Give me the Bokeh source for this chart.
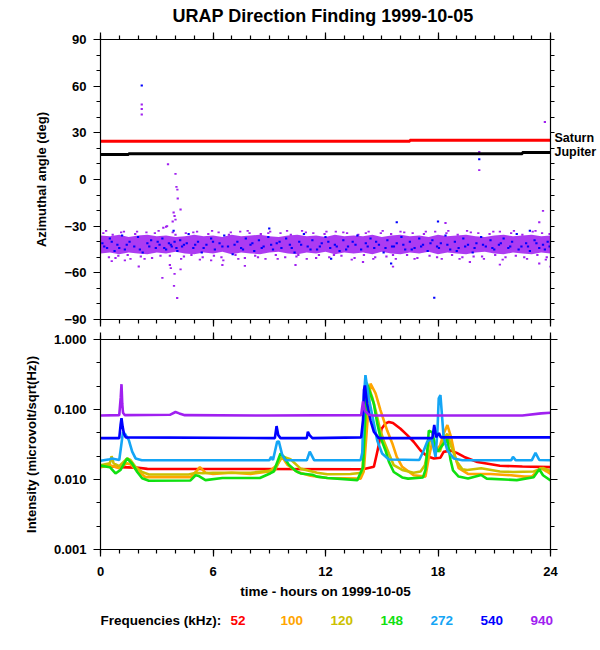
from bokeh.plotting import figure
from bokeh.layouts import column
from bokeh.models import FixedTicker, LinearAxis, LogAxis, Range1d, PrintfTickFormatter
from bokeh.core.properties import value
from bokeh.embed import file_html
from bokeh.resources import INLINE

FONT = "Liberation Sans"
RED, ORANGE, YELLOW, GREEN = "#ff0000", "#ffa500", "#ccc000", "#10e010"
LBLUE, BLUE, PURPLE = "#14a5f5", "#0000ff", "#a020f0"

TITLE = "URAP Direction Finding  1999-10-05"

# ---------------- top panel data ----------------
saturn_h = [0, 16.5, 16.5, 24]
saturn_deg = [24.6, 24.6, 25.3, 25.3]
jupiter_h = [0, 1.5, 1.5, 22.5, 22.5, 24]
jupiter_deg = [16.1, 16.1, 16.6, 16.6, 17.4, 17.4]
planet_names = {26.5: "Saturn", 17.5: "Jupiter"}

core_h = [0, 0.5, 1, 1.5, 2, 2.5, 3, 3.5, 4, 4.5, 5, 5.5, 6, 6.5, 7, 7.5, 8, 8.5, 9, 9.5, 10, 10.5,
          11, 11.5, 12, 12.5, 13, 13.5, 14, 14.5, 15, 15.5, 16, 16.5, 17, 17.5, 18, 18.5, 19, 19.5,
          20, 20.5, 21, 21.5, 22, 22.5, 23, 23.5, 24]
core_hi = [-36, -36.5, -35.5, -37, -36, -35.5, -36.5, -36, -37, -36.5, -35.5, -36.5, -36, -37, -35.5,
           -36.5, -36, -35.5, -36.5, -37, -36, -35.5, -36.5, -36, -37, -35.5, -36.5, -36, -36.5, -35.5,
           -37, -36, -35.5, -36.5, -36, -37, -35.5, -36.5, -36, -35.5, -36.5, -37, -36, -35.5, -36.5,
           -36, -35.5, -36.5, -36]
core_lo = [-47.5, -47, -48, -47, -47.5, -48, -47, -47.5, -46.5, -47.5, -48, -47, -47.5, -46.5, -48,
           -47, -47.5, -48, -47, -46.5, -47.5, -48, -47, -47.5, -46.5, -48, -47, -47.5, -47, -48,
           -46.5, -47.5, -48, -47, -47.5, -46.5, -48, -47, -47.5, -48, -47, -46.5, -47.5, -48, -47,
           -47.5, -48, -47, -47.5]

blue_pts = [
    (0.1, -41), (0.35, -44), (0.5, -38), (0.75, -46), (0.9, -42), (1.15, -36), (1.3, -45), (1.55, -40),
    (1.8, -43), (2.0, -37), (2.25, -47), (2.5, -41), (2.7, -39), (2.95, -44), (3.15, -42), (3.3, -38),
    (3.5, -45), (3.65, -41), (3.8, -43), (3.95, -40), (4.1, -46), (4.25, -39), (4.45, -42), (4.7, -35),
    (4.95, -44), (5.2, -40), (5.4, -47), (5.65, -42), (5.9, -38), (6.1, -45), (6.35, -41), (6.6, -36),
    (6.8, -43), (7.05, -48), (7.3, -40), (7.5, -44), (7.75, -38), (8.0, -42), (8.2, -46), (8.45, -39),
    (8.7, -43), (8.95, -37), (9.2, -45), (9.4, -41), (9.65, -44), (9.9, -38), (10.1, -42), (10.35, -47),
    (10.6, -40), (10.85, -35), (11.05, -43), (11.3, -39), (11.55, -45), (11.8, -41), (12.0, -37),
    (12.25, -44), (12.5, -42), (12.75, -46), (12.95, -39), (13.2, -43), (13.45, -40), (13.7, -36),
    (13.9, -45), (14.15, -41), (14.4, -38), (14.6, -44), (14.85, -42), (15.1, -47), (15.3, -39),
    (15.55, -43), (15.8, -41), (16.05, -37), (16.25, -45), (16.5, -40), (16.75, -44), (17.0, -38),
    (17.2, -42), (17.45, -46), (17.7, -39), (17.95, -43), (18.15, -41), (18.4, -36), (18.65, -45),
    (18.9, -40), (19.1, -44), (19.35, -38), (19.6, -42), (19.85, -47), (20.05, -41), (20.3, -37),
    (20.55, -43), (20.8, -39), (21.0, -45), (21.25, -42), (21.5, -38), (21.75, -44), (21.95, -40),
    (22.2, -35), (22.45, -43), (22.7, -41), (22.9, -46), (23.15, -39), (23.4, -44), (23.6, -42),
    (23.85, -40),
    (0.2, -43), (0.6, -40), (1.0, -44), (1.4, -42), (2.1, -45), (2.6, -43), (3.05, -40), (3.4, -44),
    (3.75, -42), (4.05, -44), (4.35, -43), (4.6, -41), (5.05, -42), (5.5, -44), (6.0, -40), (6.5, -43),
    (7.15, -42), (7.6, -45), (8.1, -41), (8.6, -44), (9.1, -42), (9.55, -40), (10.2, -44), (10.7, -42),
    (11.2, -45), (11.7, -43), (12.15, -40), (12.6, -43), (13.1, -45), (13.6, -42), (14.25, -43),
    (14.7, -40), (15.2, -44), (15.65, -43), (16.15, -42), (16.6, -45), (17.1, -43), (17.6, -41),
    (18.05, -44), (18.5, -42), (19.0, -46), (19.45, -43), (19.95, -44), (20.4, -42), (20.9, -44),
    (21.35, -41), (21.85, -43), (22.3, -45), (22.8, -43), (23.25, -41), (23.7, -45), (23.95, -43),
    (2.2, 60.5), (20.2, 13), (17.8, -76), (15.8, -27.5), (18.0, -27), (15.5, -54), (3.9, -33),
    (9.0, -31.5), (22.9, -33), (12.3, -51),
]

purple_pts = [
    (0.15, -34.5), (0.45, -50), (0.65, -35.5), (0.95, -49), (1.25, -33.5), (1.6, -51), (1.85, -35),
    (2.15, -49.5), (2.45, -34), (2.75, -50.5), (3.1, -33), (3.35, -31), (3.55, -30), (3.7, -49),
    (4.0, -35.5), (4.3, -51), (4.55, -34.5), (4.85, -48.5), (5.15, -33.5), (5.45, -50), (5.75, -35),
    (6.05, -49), (6.3, -34), (6.55, -52), (6.85, -35.5), (7.2, -48.5), (7.45, -33.5), (7.7, -50.5),
    (7.95, -34.5), (8.25, -49), (8.55, -35), (8.8, -51), (9.05, -33.5), (9.35, -48.5), (9.6, -34.5),
    (9.85, -50), (10.15, -35.5), (10.45, -49.5), (10.75, -33), (11.0, -51), (11.35, -34.5),
    (11.65, -48.5), (11.95, -35), (12.2, -50), (12.55, -33.5), (12.85, -49), (13.15, -34.5),
    (13.4, -51.5), (13.75, -35.5), (14.05, -48.5), (14.3, -33.5), (14.65, -50), (14.95, -34.5),
    (15.25, -49.5), (15.5, -35), (15.75, -51), (16.0, -33.5), (16.35, -48.5), (16.65, -34.5),
    (16.9, -50.5), (17.25, -35), (17.55, -49), (17.85, -33.5), (18.2, -51), (18.45, -34.5),
    (18.75, -48.5), (19.05, -35.5), (19.3, -50), (19.55, -33), (19.9, -49.5), (20.15, -34.5),
    (20.45, -51), (20.75, -35), (21.05, -48.5), (21.3, -33.5), (21.6, -50), (21.9, -34.5),
    (22.15, -49), (22.5, -35.5), (22.75, -51), (23.05, -33.5), (23.3, -48.5), (23.55, -34.5),
    (23.8, -50), (23.95, -35),
    (0.3, -33), (0.8, -50.5), (1.1, -34), (1.45, -48.5), (1.95, -33.5), (2.35, -51), (2.9, -34.5),
    (3.2, -49), (3.85, -34), (4.45, -49.5), (4.95, -34), (5.3, -51.5), (5.95, -33), (6.45, -50),
    (6.95, -34), (7.35, -51), (7.85, -33), (8.4, -50), (8.95, -34.5), (9.45, -51), (9.95, -33),
    (10.55, -48.5), (10.95, -34), (11.5, -50.5), (12.05, -33.5), (12.45, -48.5), (12.95, -34),
    (13.55, -50.5), (14.15, -34.5), (14.55, -51), (15.05, -33), (15.6, -48.5), (16.2, -34),
    (16.75, -51), (17.35, -33.5), (17.95, -50), (18.55, -33), (19.15, -51), (19.75, -34),
    (20.35, -49.5), (20.95, -33.5), (21.45, -51.5), (22.05, -33), (22.6, -50), (23.2, -33),
    (23.75, -51.5),
    (2.2, 48.2), (2.2, 45.3), (2.2, 41.8), (3.6, 9.8), (4.0, 3.6), (4.05, -4.7), (4.1, -6.5),
    (4.12, -12.2), (4.27, -19.3), (3.9, -21.2), (3.95, -23.5), (4.0, -25.8), (3.85, -27), (3.5, -30.4),
    (3.7, -55), (3.75, -57), (3.3, -63.2), (3.95, -60.7), (4.27, -57.8), (3.92, -68.4), (4.09, -76.2),
    (2.04, -55.9), (7.7, -55.5), (6.5, -55), (10.4, -55), (1.3, -52), (23.7, 37), (20.2, 17.7),
    (20.2, 6), (23.6, -20.2), (23.4, -27.5), (15.6, -56), (21.3, -54.7), (23.4, -54), (24.0, -56),
    (18.4, -28), (14.0, -53), (0.6, -52.5), (5.9, -52), (19.7, -53),
]

# ---------------- bottom panel data (hours, microvolt/sqrt(Hz)) ----------------
f52_h = [0, 0.3, 1.0, 1.9, 2.5, 14.0, 14.58, 14.7, 14.84, 14.99, 15.2, 15.38, 15.6, 16.0, 16.36,
         16.7, 17.07, 17.42, 17.78, 18.13, 18.3, 18.67, 19.0, 19.4, 20.1, 21.3, 22.5, 24]
f52_v = [0.0151, 0.0158, 0.015, 0.0148, 0.0142, 0.014, 0.0152, 0.021, 0.031, 0.053, 0.063, 0.0664,
         0.064, 0.053, 0.043, 0.0346, 0.026, 0.0215, 0.020, 0.0205, 0.0248, 0.026, 0.024, 0.021,
         0.0178, 0.0157, 0.0153, 0.015]

f100_h = [0, 0.5, 1.0, 1.4, 1.6, 2.0, 2.4, 4.8, 5.1, 5.3, 5.6, 6.0, 7.0, 8.0, 9.0, 9.4, 9.69, 9.96,
          10.5, 11.2, 12.1, 13.87, 14.04, 14.2, 14.4, 14.67, 14.93, 15.29, 15.56, 15.8, 16.09, 16.7,
          17.33, 17.5, 17.7, 17.9, 18.1, 18.3, 18.5, 18.7, 18.9, 19.1, 19.6, 20.44, 20.8, 21.9, 22.6,
          23.0, 23.47, 23.8, 24]
f100_v = [0.015, 0.016, 0.0145, 0.017, 0.0165, 0.013, 0.0108, 0.0108, 0.013, 0.015, 0.0125, 0.012,
          0.0125, 0.012, 0.013, 0.016, 0.021, 0.0163, 0.0128, 0.0113, 0.0105, 0.0103, 0.013, 0.05,
          0.235, 0.17, 0.098, 0.05, 0.033, 0.021, 0.0152, 0.0115, 0.011, 0.02, 0.035, 0.027, 0.03,
          0.045, 0.06, 0.04, 0.022, 0.0145, 0.012, 0.012, 0.012, 0.0115, 0.011, 0.011, 0.0146, 0.013,
          0.012]

f120_h = [0, 0.5, 0.59, 0.7, 1.0, 1.42, 1.6, 1.87, 2.22, 2.58, 4.7, 5.1, 5.45, 6.0, 8.0, 9.3, 9.6,
          9.78, 10.13, 10.67, 11.55, 12.1, 13.33, 13.96, 14.1, 14.27, 14.49, 14.67, 14.88, 15.1,
          15.38, 15.64, 16.09, 16.7, 17.07, 17.3, 17.55, 17.7, 17.9, 18.1, 18.35, 18.5, 18.7, 19.0,
          19.3, 19.56, 20.3, 21.3, 22.0, 23.1, 23.6, 24]
f120_v = [0.016, 0.017, 0.0215, 0.017, 0.0155, 0.02, 0.019, 0.0151, 0.0128, 0.0118, 0.0118, 0.0125,
          0.0123, 0.0125, 0.0125, 0.0135, 0.02, 0.021, 0.0195, 0.0143, 0.0125, 0.0119, 0.012, 0.0125,
          0.05, 0.22, 0.15, 0.098, 0.056, 0.036, 0.0235, 0.016, 0.0137, 0.0125, 0.013, 0.016, 0.035,
          0.04, 0.028, 0.025, 0.04, 0.045, 0.03, 0.018, 0.014, 0.0137, 0.0145, 0.013, 0.0128, 0.013,
          0.0146, 0.0132]

f148_h = [0, 0.5, 0.8, 1.07, 1.42, 1.69, 1.96, 2.22, 2.58, 4.8, 5.07, 5.25, 5.6, 6.5, 8.5, 9.07,
          9.24, 9.6, 9.78, 10.04, 10.4, 10.67, 11.3, 11.55, 12.1, 13.7, 14.0, 14.2, 14.58, 14.76,
          14.93, 15.2, 15.38, 15.64, 16.09, 16.4, 17.2, 17.33, 17.42, 17.51, 17.7, 17.85, 18.0, 18.2,
          18.49, 18.67, 18.8, 19.1, 19.6, 20.3, 20.6, 22.2, 23.1, 23.4, 23.6, 24]
f148_v = [0.0158, 0.015, 0.0122, 0.0137, 0.02, 0.0168, 0.0128, 0.0104, 0.0096, 0.0097, 0.0115,
          0.0112, 0.0098, 0.0105, 0.0105, 0.0123, 0.013, 0.0235, 0.021, 0.0163, 0.0133, 0.0122,
          0.0117, 0.011, 0.0105, 0.0098, 0.015, 0.24, 0.12, 0.063, 0.04, 0.026, 0.018, 0.0128,
          0.0107, 0.0103, 0.0107, 0.0137, 0.024, 0.05, 0.047, 0.03, 0.025, 0.03, 0.038, 0.019,
          0.0135, 0.011, 0.0103, 0.0116, 0.0103, 0.0098, 0.0108, 0.014, 0.0115, 0.0097]

f272_h = [0, 0.5, 0.6, 1.0, 1.1, 1.2, 1.3, 1.51, 1.69, 1.87, 2.2, 9.0, 9.1, 9.2, 9.42, 9.51, 9.69,
          9.87, 11.0, 11.16, 11.4, 13.87, 13.96, 14.05, 14.13, 14.3, 14.58, 14.76, 15.02, 15.38,
          17.0, 17.24, 17.42, 17.65, 17.87, 17.97, 18.04, 18.13, 18.3, 18.5, 18.84, 19.3, 21.9, 22.0,
          22.15, 23.0, 23.2, 23.4, 24]
f272_v = [0.0185, 0.0195, 0.02, 0.019, 0.03, 0.048, 0.045, 0.0365, 0.025, 0.020, 0.0188, 0.0188,
          0.021, 0.019, 0.0346, 0.035, 0.0225, 0.0188, 0.0188, 0.025, 0.0188, 0.0188, 0.024, 0.15,
          0.31, 0.15, 0.063, 0.036, 0.0235, 0.0193, 0.019, 0.026, 0.0345, 0.039, 0.021, 0.05, 0.144,
          0.16, 0.04, 0.026, 0.02, 0.0188, 0.0188, 0.021, 0.0188, 0.0188, 0.024, 0.019, 0.0188]

f540_h = [0, 1.0, 1.07, 1.12, 1.18, 1.25, 1.35, 9.3, 9.39, 9.48, 9.6, 11.0, 11.06, 11.15, 11.3,
          13.9, 14.0, 14.05, 14.1, 14.22, 14.4, 14.58, 14.84, 17.7, 17.8, 17.9, 18.05, 18.15, 24]
f540_v = [0.039, 0.039, 0.06, 0.075, 0.057, 0.045, 0.04, 0.039, 0.058, 0.043, 0.039, 0.039, 0.048,
          0.043, 0.039, 0.04, 0.07, 0.19, 0.22, 0.12, 0.07, 0.048, 0.039, 0.039, 0.06, 0.04, 0.046,
          0.04, 0.04]

f940_h = [0, 1.0, 1.08, 1.12, 1.16, 1.2, 1.3, 3.7, 4.0, 4.2, 4.5, 9.0, 13.9, 14.0, 14.1, 14.3,
          14.5, 22.5, 23.5, 24]
f940_v = [0.082, 0.083, 0.15, 0.23, 0.12, 0.09, 0.083, 0.084, 0.092, 0.088, 0.083, 0.082, 0.083,
          0.13, 0.095, 0.085, 0.082, 0.082, 0.088, 0.09]

freq_title = "Frequencies (kHz):"
freq_labels = ["52", "100", "120", "148", "272", "540", "940"]
freq_colors = [RED, ORANGE, YELLOW, GREEN, LBLUE, BLUE, PURPLE]
series = [(f52_h, f52_v), (f100_h, f100_v), (f120_h, f120_v), (f148_h, f148_v),
          (f272_h, f272_v), (f540_h, f540_v), (f940_h, f940_v)]

hour_ticks = [0, 6, 12, 18, 24]
hour_minor = list(range(0, 25))
deg_ticks = [-90, -60, -30, 0, 30, 60, 90]
deg_minor = list(range(-90, 91, 10))
int_ticks = [0.001, 0.01, 0.1, 1.0]
int_minor = [1.0, 0.4642, 0.2154, 0.1, 0.04642, 0.02154, 0.01, 0.004642, 0.002154, 0.001]


def style_axis(ax, show_labels):
    ax.major_tick_out = 7
    ax.major_tick_in = 0
    ax.minor_tick_out = 4
    ax.minor_tick_in = 0
    ax.axis_line_color = "black"
    ax.axis_line_width = 1.2
    ax.major_tick_line_color = "black"
    ax.minor_tick_line_color = "black"
    ax.major_tick_line_width = 1.2
    ax.minor_tick_line_width = 1.2
    ax.major_label_text_font = FONT
    ax.major_label_text_font_style = "bold"
    ax.axis_label_text_font = FONT
    ax.axis_label_text_font_style = "bold"
    ax.axis_label_text_font_size = "13px"
    ax.axis_label_text_color = "black"
    if show_labels:
        ax.major_label_text_font_size = "13px"
        ax.major_label_text_color = "black"
    else:
        ax.major_label_text_font_size = "1px"
        ax.major_label_text_color = None
        ax.major_label_standoff = 0


def bare(fig):
    fig.outline_line_color = None
    fig.grid.visible = False
    fig.xgrid.visible = False
    fig.ygrid.visible = False


# ---------------- title strip ----------------
p0 = figure(frame_width=450, frame_height=29, x_range=Range1d(0, 450), y_range=Range1d(0, 29),
            x_axis_location=None, y_axis_location=None, output_backend="svg",
            toolbar_location=None, min_border_left=100, min_border_right=48, min_border_top=0,
            min_border_bottom=0)
bare(p0)
p0.text(x=[225], y=[14], text=[TITLE], text_align="center", text_baseline="middle",
        text_font=value(FONT), text_font_style="bold", text_font_size="18px", text_color="black")

# ---------------- top figure ----------------
p1 = figure(frame_width=450, frame_height=280, x_range=Range1d(0, 24), y_range=Range1d(-90, 90),
            x_axis_location=None, y_axis_location=None, output_backend="svg",
            toolbar_location=None, min_border_left=100, min_border_right=48, min_border_top=10,
            min_border_bottom=10)
bare(p1)

xt = FixedTicker(ticks=hour_ticks, minor_ticks=hour_minor)
yt1 = FixedTicker(ticks=deg_ticks, minor_ticks=deg_minor)
for loc in ["below", "above"]:
    ax = LinearAxis(ticker=xt)
    style_axis(ax, False)
    p1.add_layout(ax, loc)
ax = LinearAxis(ticker=yt1, axis_label="Azimuthal angle (deg)")
style_axis(ax, True)
ax.major_label_standoff = 7
ax.axis_label_standoff = 12
p1.add_layout(ax, "left")

# right axis: tick marks every 10 deg, labelled with the planet names
ax = LinearAxis(ticker=FixedTicker(ticks=list(planet_names.keys()), minor_ticks=deg_minor),
                major_label_overrides=planet_names)
style_axis(ax, True)
ax.major_label_text_font_size = "12.5px"
ax.major_tick_out = 0
ax.major_tick_line_color = None
ax.minor_tick_out = 4
ax.major_label_standoff = 0
p1.add_layout(ax, "right")

p1.varea(x=core_h, y1=core_lo, y2=core_hi, fill_color=PURPLE, fill_alpha=0.88)
p1.rect(x=[h for h, d in purple_pts], y=[d for h, d in purple_pts], width=0.12, height=1.2,
        fill_color=PURPLE, line_color=None)
p1.rect(x=[h for h, d in blue_pts], y=[d for h, d in blue_pts], width=0.12, height=1.3,
        fill_color=BLUE, line_color=None)
p1.line(saturn_h, saturn_deg, line_color=RED, line_width=3)
p1.line(jupiter_h, jupiter_deg, line_color="black", line_width=3)

# ---------------- bottom figure ----------------
p2 = figure(frame_width=450, frame_height=210, x_range=Range1d(0, 24), y_range=Range1d(0.001, 1.0),
            y_axis_type="log", x_axis_location=None, y_axis_location=None, output_backend="svg",
            toolbar_location=None, min_border_left=100, min_border_right=48, min_border_top=10,
            min_border_bottom=56)
bare(p2)

yt2 = FixedTicker(ticks=int_ticks, minor_ticks=int_minor)
ax = LinearAxis(ticker=xt, axis_label="time - hours on 1999-10-05")
style_axis(ax, True)
ax.axis_label_text_font_size = "13.5px"
ax.major_label_standoff = 10
ax.axis_label_standoff = 5
p2.add_layout(ax, "below")
ax = LinearAxis(ticker=xt)
style_axis(ax, False)
p2.add_layout(ax, "above")
ax = LogAxis(ticker=yt2, axis_label="Intensity (microvolt/sqrt(Hz))",
             formatter=PrintfTickFormatter(format="%.3f"))
style_axis(ax, True)
ax.major_label_standoff = 7
ax.axis_label_standoff = 12
p2.add_layout(ax, "left")
ax = LogAxis(ticker=yt2)
style_axis(ax, False)
p2.add_layout(ax, "right")

for (hs, vs), col in zip(series, freq_colors):
    p2.line(hs, vs, line_color=col, line_width=2.6)

# ---------------- frequency legend strip ----------------
p3 = figure(frame_width=480, frame_height=30, x_range=Range1d(0, 480), y_range=Range1d(0, 30),
            x_axis_location=None, y_axis_location=None, output_backend="svg",
            toolbar_location=None, min_border_left=100, min_border_right=8, min_border_top=0,
            min_border_bottom=0)
bare(p3)
leg_x = [0] + [130 + 50 * i for i in range(len(freq_labels))]
p3.text(x=leg_x, y=[15] * len(leg_x), text=[freq_title] + freq_labels,
        text_color=["black"] + freq_colors, text_align="left", text_baseline="middle",
        text_font=value(FONT), text_font_style="bold", text_font_size="13.5px")

layout = column(p0, p1, p2, p3, spacing=0)
open("out.html", "w").write(file_html(layout, INLINE))
